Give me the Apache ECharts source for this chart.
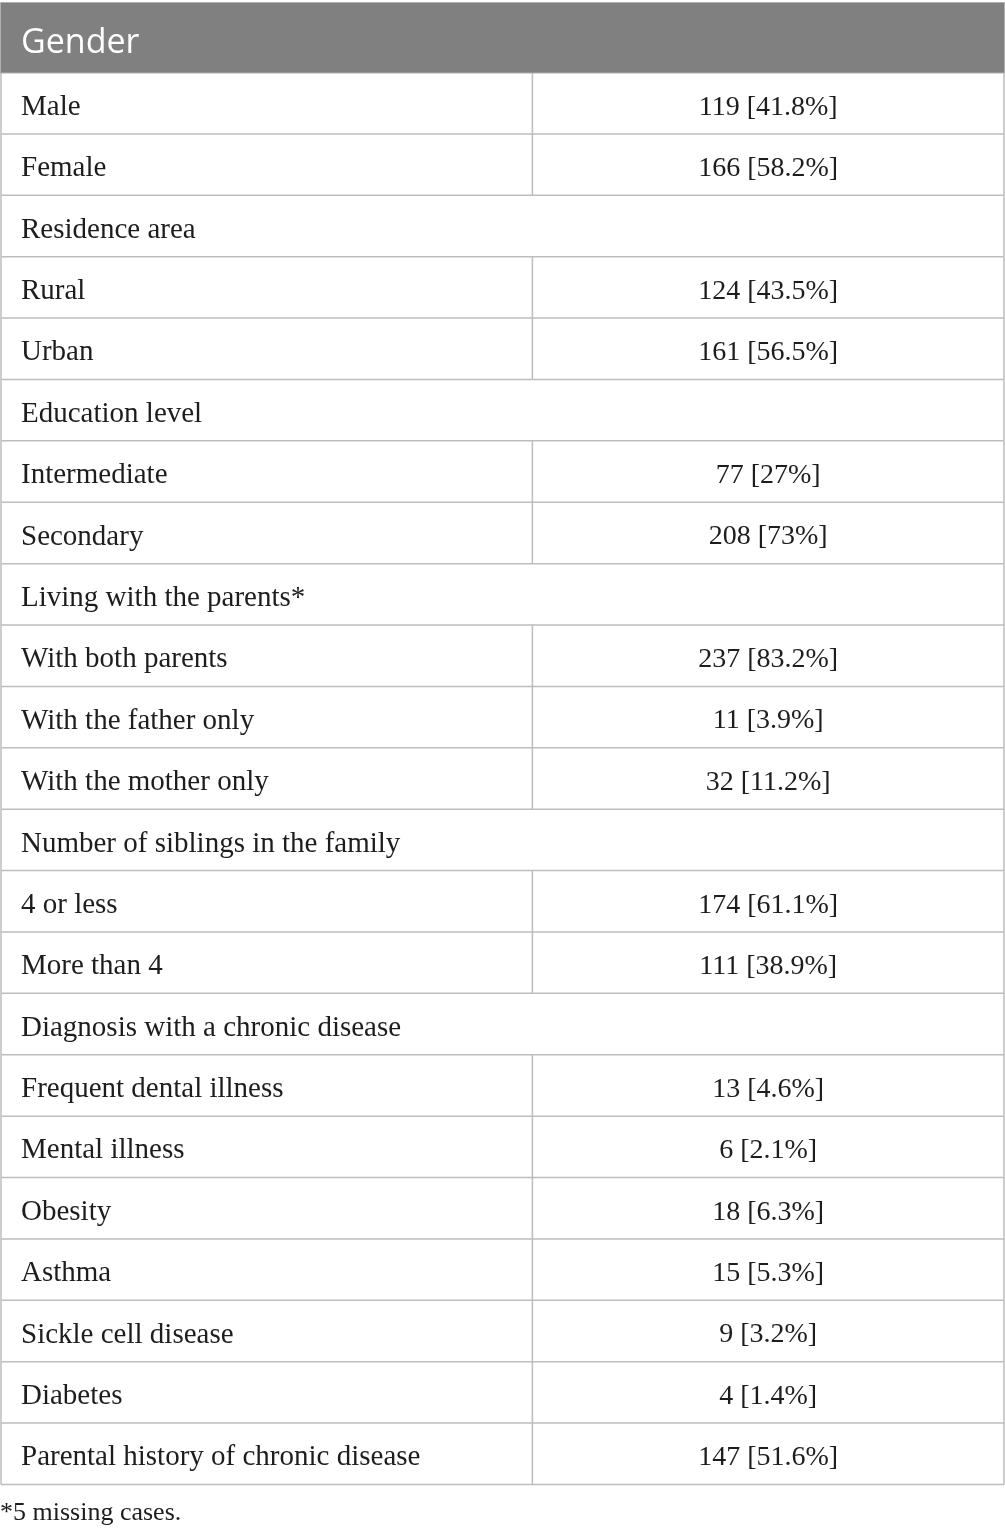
<!DOCTYPE html>
<html>
<head>
<meta charset="utf-8">
<script src="https://cdn.jsdelivr.net/npm/echarts@6/dist/echarts.min.js"></script>
<style>
html,body{margin:0;padding:0;background:#fff;}
#chart{width:1005px;height:1539px;}
</style>
</head>
<body>
<div id="chart"></div>
<script>
const headerTitle = 'Gender';
const rowLabels = ['Male','Female','Residence area','Rural','Urban','Education level','Intermediate','Secondary','Living with the parents*','With both parents','With the father only','With the mother only','Number of siblings in the family','4 or less','More than 4','Diagnosis with a chronic disease','Frequent dental illness','Mental illness','Obesity','Asthma','Sickle cell disease','Diabetes','Parental history of chronic disease'];
const counts = [119,166,null,124,161,null,77,208,null,237,11,32,null,174,111,null,13,6,18,15,9,4,147];
const percents = ['41.8','58.2',null,'43.5','56.5',null,'27','73',null,'83.2','3.9','11.2',null,'61.1','38.9',null,'4.6','2.1','6.3','5.3','3.2','1.4','51.6'];
const footnote = '*5 missing cases.';

const BORDER = '#bdbdbd';
const TEXT = '#1e1c1d';
const BODY_FONT = '29px "Liberation Serif"';
const VALUE_FONT = '28px "Liberation Serif"';
const NOTE_FONT = '26px "Liberation Serif"';
const SPLIT = 0.5298; // column divider position (fraction of table width)

const chart = echarts.init(document.getElementById('chart'), null, {renderer:'canvas'});

const data = rowLabels.map((l, i) => [0, i]);

function renderItem(params, api) {
  const i = api.value(1);
  const c = api.coord([0, i]);
  const band = api.size([0, 1])[1];
  const xL = api.coord([0, i])[0];
  const xR = api.coord([1, i])[0];
  const xM = api.coord([SPLIT, i])[0];
  const yT = c[1] - band / 2;
  const yB = c[1] + band / 2;
  const lineStyle = {stroke: BORDER, lineWidth: 1.5};
  const children = [
    {type:'line', shape:{x1:xL, y1:yB, x2:xR, y2:yB}, style:lineStyle},
    {type:'line', shape:{x1:xL, y1:yT, x2:xL, y2:yB}, style:lineStyle},
    {type:'line', shape:{x1:xR, y1:yT, x2:xR, y2:yB}, style:lineStyle},
    {type:'text', style:{text: rowLabels[i], x: xL + 20, y: c[1] + 4, fill: TEXT, font: BODY_FONT,
      textAlign:'left', textVerticalAlign:'middle', align:'left', verticalAlign:'middle'}}
  ];
  if (counts[i] !== null) {
    children.push({type:'line', shape:{x1:xM, y1:yT, x2:xM, y2:yB}, style:lineStyle});
    children.push({type:'text', style:{text: counts[i] + ' [' + percents[i] + '%]', x: (xM + xR) / 2, y: c[1] + 4,
      fill: TEXT, font: VALUE_FONT, textAlign:'center', textVerticalAlign:'middle', align:'center', verticalAlign:'middle'}});
  }
  return {type:'group', children};
}

chart.setOption({
  animation:false,
  grid:{left:1, right:1, top:72.5, bottom:54.5, containLabel:false},
  xAxis:{type:'value', min:0, max:1, show:false},
  yAxis:{type:'category', data:rowLabels, inverse:true, show:false},
  graphic:[
    {type:'rect', left:0, top:2, shape:{width:1004, height:70.5}, style:{fill:'#808080', stroke:'#b0b0b0', lineWidth:1}, z:10},
    {type:'text', left:21, top:26, style:{text:headerTitle, fill:'#ffffff', font:'34px "Open Sans"'}, z:11},
    {type:'text', left:0, top:1500, style:{text:footnote, fill:TEXT, font:NOTE_FONT}, z:11}
  ],
  series:[{
    type:'custom',
    renderItem: renderItem,
    data: data,
    clip:false
  }]
});
</script>
</body>
</html>
